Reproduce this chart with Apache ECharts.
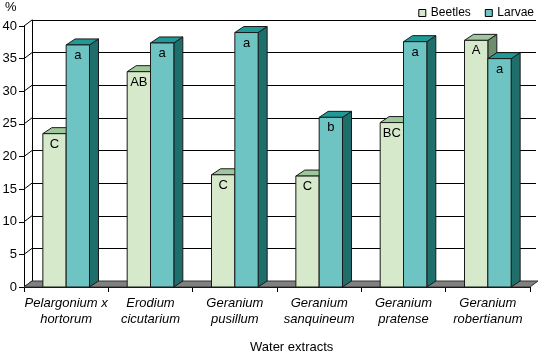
<!DOCTYPE html>
<html>
<head>
<meta charset="utf-8">
<script src="https://cdn.jsdelivr.net/npm/echarts@6/dist/echarts.min.js"></script>
<style>
html,body{margin:0;padding:0;background:#fff;}
#c{width:539px;height:356px;}
</style>
</head>
<body>
<div id="c"></div>
<script>
const categories = ['Pelargonium x\nhortorum','Erodium\ncicutarium','Geranium\npusillum','Geranium\nsanquineum','Geranium\npratense','Geranium\nrobertianum'];
const beetles = [23.5, 33.0, 17.2, 17.0, 25.2, 37.8];
const larvae = [37.1, 37.4, 39.0, 26.0, 37.6, 35.0];
const beetleLetters = ['C','AB','C','C','BC','A'];
const larvaeLetters = ['a','a','a','b','a','a'];
const yTicks = [0,5,10,15,20,25,30,35,40];

const FONT = '"Liberation Sans", Arial, sans-serif';
const DX = 9, DY = -6;      // bar depth
const WDX = 8, WDY = -6;    // wall depth
const BEET = {front:'#d6e9ca', top:'#9ec79b', side:'#6e8f6e'};
const LARV = {front:'#6ec3c3', top:'#1f9a97', side:'#1e6e6c'};
const EDGE = '#1a1a1a';

function makeBar(offset, col, letters){
  return function(params, api){
    const i = api.value(0), v = api.value(1);
    const c = api.coord([i, v]);
    const b = api.coord([i, 0]);
    const w = api.size([1, 0])[0] * 0.2765;
    const x0 = c[0] + offset * w;
    const yT = c[1], yB = b[1];
    const st = {stroke: EDGE, lineWidth: 1};
    return {type:'group', children:[
      {type:'polygon', shape:{points:[[x0+w,yT],[x0+w+DX,yT+DY],[x0+w+DX,yB+DY],[x0+w,yB]]}, style:Object.assign({fill:col.side}, st)},
      {type:'polygon', shape:{points:[[x0,yT],[x0+w,yT],[x0+w+DX,yT+DY],[x0+DX,yT+DY]]}, style:Object.assign({fill:col.top}, st)},
      {type:'rect', shape:{x:x0, y:yT, width:w, height:yB-yT}, style:Object.assign({fill:col.front}, st)},
      {type:'text', style:{text:letters[i], x:x0+w/2, y:yT+4, align:'center', verticalAlign:'top', fontSize:13, fontFamily:FONT, fill:'#000'}}
    ]};
  };
}

const chart = echarts.init(document.getElementById('c'), null, {renderer:'canvas'});
chart.setOption({
  animation:false,
  backgroundColor:'#fff',
  textStyle:{fontFamily:FONT},
  grid:[
    {left:24, right:9, top:26, bottom:69, containLabel:false, outerBoundsMode:'none'},
    {left:24+WDX, right:9-WDX+2, top:26+WDY, bottom:69-WDY, containLabel:false, outerBoundsMode:'none'}
  ],
  legend:{
    right:0, top:2, orient:'horizontal', width:200, itemWidth:7, itemHeight:7, itemGap:14, icon:'rect',
    textStyle:{fontSize:12, fontFamily:FONT, color:'#000'},
    data:[
      {name:'Beetles', itemStyle:{color:BEET.front, borderColor:'#000', borderWidth:1}},
      {name:'Larvae', itemStyle:{color:LARV.front, borderColor:'#000', borderWidth:1}}
    ]
  },
  xAxis:[
    {type:'category', gridIndex:0, data:categories, boundaryGap:true,
     axisLine:{show:true, lineStyle:{color:'#000', width:1}},
     axisTick:{show:true, length:5, lineStyle:{color:'#000'}},
     axisLabel:{fontSize:13, fontStyle:'italic', fontFamily:FONT, color:'#000', margin:8, lineHeight:16, interval:0}
    },
    {type:'category', gridIndex:1, data:categories, boundaryGap:true, show:false}
  ],
  yAxis:[
    {type:'value', gridIndex:0, min:0, max:40, interval:5,
     axisLine:{show:true, lineStyle:{color:'#000'}},
     axisTick:{show:true, length:5, lineStyle:{color:'#000'}},
     axisLabel:{fontSize:13, fontFamily:FONT, color:'#000', margin:7},
     splitLine:{show:false}
    },
    {type:'value', gridIndex:1, min:0, max:40, interval:5,
     axisLine:{show:true, lineStyle:{color:'#000'}},
     axisTick:{show:false}, axisLabel:{show:false},
     splitLine:{show:true, lineStyle:{color:'#000', width:1}}
    }
  ],
  graphic:[
    {type:'text', left:5, top:1, style:{text:'%', fontSize:13, fontFamily:FONT, fill:'#000'}},
    {type:'text', left:250, top:341, style:{text:'Water extracts', fontSize:13, fontFamily:FONT, fill:'#000'}}
  ],
  series:[
    {type:'custom', name:'wall', xAxisIndex:0, yAxisIndex:0, z:1, silent:true,
     data:yTicks.map(v => [0, v]),
     renderItem:function(params, api){
       const cs = params.coordSys;
       const y = api.coord([0, api.value(1)])[1];
       return {type:'line', shape:{x1:cs.x, y1:y, x2:cs.x+WDX, y2:y+WDY}, style:{stroke:'#000', lineWidth:1}};
     }
    },
    {type:'custom', name:'floor', xAxisIndex:0, yAxisIndex:0, z:1, silent:true,
     data:[[0, 0]],
     renderItem:function(params, api){
       const cs = params.coordSys;
       const y = api.coord([0, 0])[1];
       const xl = cs.x, xr = cs.x + cs.width;
       return {type:'polygon', shape:{points:[[xl,y],[xr,y],[xr+WDX,y+WDY],[xl+WDX,y+WDY]]}, style:{fill:'#808080', stroke:'#333', lineWidth:1}};
     }
    },
    {type:'custom', name:'Beetles', xAxisIndex:0, yAxisIndex:0, z:3,
     itemStyle:{color:BEET.front, borderColor:'#000'},
     data:beetles.map((v,i) => [i, v]),
     renderItem:makeBar(-1, BEET, beetleLetters)
    },
    {type:'custom', name:'Larvae', xAxisIndex:0, yAxisIndex:0, z:4,
     itemStyle:{color:LARV.front, borderColor:'#000'},
     data:larvae.map((v,i) => [i, v]),
     renderItem:makeBar(0, LARV, larvaeLetters)
    }
  ]
});
</script>
</body>
</html>
